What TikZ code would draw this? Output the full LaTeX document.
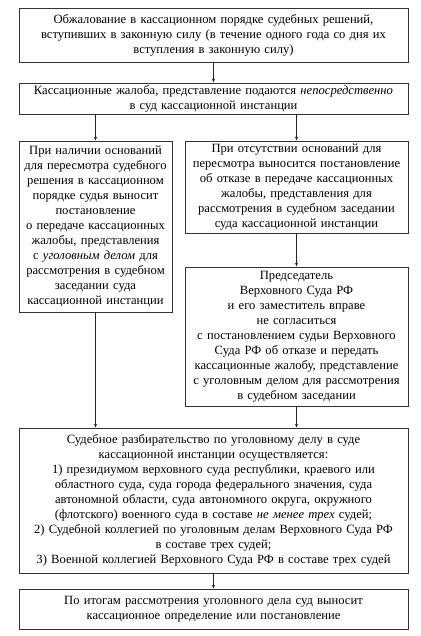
\documentclass[tikz,border=0pt]{standalone}
\usepackage{fontspec}
\setmainfont{Liberation Serif}
\usepackage{tikz}
\usetikzlibrary{positioning,calc,arrows.meta}

\begin{document}
\begin{tikzpicture}[node distance=2cm, auto,
        block/.style={rectangle, draw=black!80, line width=0.9pt, fill=white, text=black, inner xsep=3pt, inner ysep=1.5pt, outer sep=0pt, align=center, font=\fontsize{12.6}{15}\selectfont},
        wide/.style={block, text width=383pt},
        half/.style={block, text width=147pt},
        side/.style={block, text width=217pt},
        line/.style={draw=black!85, -{Latex[length=4pt,width=3pt]}, line width=0.7pt}]
        \useasboundingbox (0,0) rectangle (420pt,-636pt);
        \node [wide, minimum height=54pt, anchor=north west] (claim) at (19pt,-8pt) {Обжалование в кассационном порядке судебных решений,\\ вступивших в законную силу (в течение одного года со дня их\\ вступления в законную силу)};
        \node [wide, minimum height=31pt, below=21pt of claim] (direct) {Кассационные жалоба, представление подаются \textit{непосредственно}\\ в суд кассационной инстанции};
        \node [half, minimum height=171pt, below right=27pt and 0pt of direct.south west] (yes) {При наличии оснований\\ для пересмотра судебного\\ решения в кассационном\\ порядке судья выносит\\ постановление\\ о передаче кассационных\\ жалобы, представления\\ с \textit{уголовным делом} для\\ рассмотрения в судебном\\ заседании суда\\ кассационной инстанции};
        \node [side, minimum height=92pt, below left=27pt and 0pt of direct.south east] (no) {При отсутствии оснований для\\ пересмотра выносится постановление\\ об отказе в передаче кассационных\\ жалобы, представления для\\ рассмотрения в судебном заседании\\ суда кассационной инстанции};
        \node [side, minimum height=139pt, below=34pt of no] (chair) {Председатель\\ Верховного Суда РФ\\ и его заместитель вправе\\ не согласиться\\ с постановлением судьи Верховного\\ Суда РФ об отказе и передать\\ кассационные жалобу, представление\\ с уголовным делом для рассмотрения\\ в судебном заседании};
        \coordinate (mid) at (direct.south |- chair.south);
        \node [wide, minimum height=145pt, below=22pt of mid] (trial) {Судебное разбирательство по уголовному делу в суде\\ кассационной инстанции осуществляется:\\ 1) президиумом верховного суда республики, краевого или\\ областного суда, суда города федерального значения, суда\\ автономной области, суда автономного округа, окружного\\ (флотского) военного суда в составе \textit{не менее трех} судей;\\ 2) Судебной коллегией по уголовным делам Верховного Суда РФ\\ в составе трех судей;\\ 3) Военной коллегией Верховного Суда РФ в составе трех судей};
        \node [wide, minimum height=40pt, below=16pt of trial] (result) {По итогам рассмотрения уголовного дела суд выносит\\ кассационное определение или постановление};

        \path [line] (claim) -- (direct);
        \path [line] (direct.south -| yes.north) -- (yes.north);
        \path [line] (direct.south -| no.north) -- (no.north);
        \path [line] (no) -- (chair);
        \path [line] (yes.south) -- (trial.north -| yes.south);
        \path [line] (chair.south) -- (trial.north -| chair.south);
        \path [line] (trial) -- (result);
    \end{tikzpicture}
\end{document}
